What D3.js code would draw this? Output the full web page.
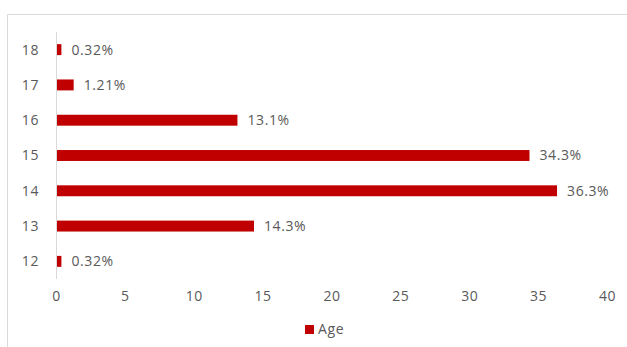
<!DOCTYPE html>
<html><head><meta charset="utf-8">
<script src="https://cdn.jsdelivr.net/npm/d3@7/dist/d3.min.js"></script>
<style>body{margin:0;background:#fff;}svg{display:block;}text{letter-spacing:0.6px;}</style>
</head><body>
<svg id="c" width="627" height="347"></svg>
<script>
const categories = ["12","13","14","15","16","17","18"];
const values = [0.32, 14.3, 36.3, 34.3, 13.1, 1.21, 0.32];
const valueLabels = ["0.32%","14.3%","36.3%","34.3%","13.1%","1.21%","0.32%"];
const xTicks = [0,5,10,15,20,25,30,35,40];
const seriesName = "Age";

const svg = d3.select("#c");
const font = "Open Sans, Noto Sans, sans-serif";
const fs = 14;
const txt = "#595959";

// chart frame
svg.append("path").attr("d","M7.5,347 V14.5 H627").attr("fill","none").attr("stroke","#d9d9d9").attr("stroke-width",1);

const x = d3.scaleLinear().domain([0,40]).range([56,607]);
const y = d3.scaleBand().domain(categories.slice().reverse()).range([32,279]).paddingInner(0.69).paddingOuter(0.345);

// vertical axis line
svg.append("line").attr("x1",x(0)+0.5).attr("x2",x(0)+0.5).attr("y1",32).attr("y2",279).attr("stroke","#d9d9d9");

svg.selectAll("rect.bar").data(values).enter().append("rect").attr("class","bar")
  .attr("x",x(0)+1).attr("y",(d,i)=>y(categories[i]))
  .attr("width",d=>x(d)-x(0)).attr("height",y.bandwidth()).attr("fill","#c00000");

svg.selectAll("text.vl").data(values).enter().append("text").attr("class","vl")
  .attr("x",d=>x(d)+11).attr("y",(d,i)=>y(categories[i])+y.bandwidth()/2)
  .attr("dy","0.35em").attr("font-family",font).attr("font-size",fs).attr("fill",txt)
  .text((d,i)=>valueLabels[i]);

// y axis labels
svg.selectAll("text.cat").data(categories).enter().append("text").attr("class","cat")
  .attr("x",39).attr("y",d=>y(d)+y.bandwidth()/2).attr("dy","0.35em")
  .attr("text-anchor","end").attr("font-family",font).attr("font-size",fs).attr("fill",txt).text(d=>d);

// x axis
const xa = svg.append("g").attr("transform","translate(0,288)")
  .call(d3.axisBottom(x).tickValues(xTicks).tickSize(0).tickPadding(3));
xa.select(".domain").remove();
xa.selectAll("text").attr("font-family",font).attr("font-size",fs).attr("fill",txt);

// legend
svg.append("rect").attr("x",305).attr("y",325).attr("width",9).attr("height",9).attr("fill","#c00000");
svg.append("text").attr("x",318).attr("y",329.5).attr("dy","0.35em").attr("font-family",font).attr("font-size",fs).attr("fill",txt).text(seriesName);
</script>
</body></html>
